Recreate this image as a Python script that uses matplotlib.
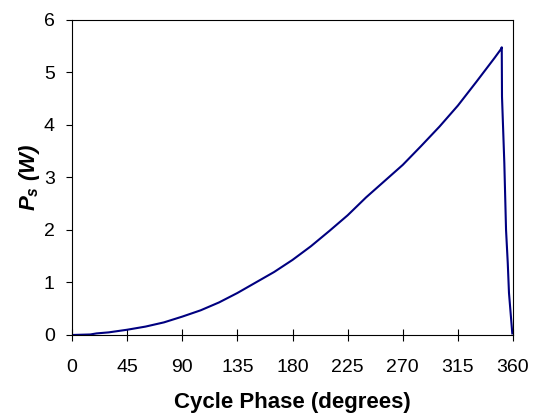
import numpy as np
import matplotlib
matplotlib.use('Agg')
import matplotlib.pyplot as plt

plt.rcParams['font.family'] = ['Liberation Sans', 'DejaVu Sans']
plt.rcParams['mathtext.fontset'] = 'custom'
plt.rcParams['mathtext.it'] = 'Liberation Sans:italic:bold'
plt.rcParams['mathtext.rm'] = 'Liberation Sans:bold'

# Values
phase = [0, 15, 20, 30, 45, 60, 75, 90, 105, 120, 135, 150, 165, 180, 195,
         210, 225, 240, 255, 270, 285, 300, 315, 330, 345, 350, 350.8,
         351.0, 352.9, 354.3, 355.7, 356.7, 359.4]
power = [0.0, 0.01, 0.03, 0.05, 0.10, 0.16, 0.24, 0.35, 0.47, 0.62, 0.80, 1.00,
         1.20, 1.43, 1.69, 1.98, 2.28, 2.62, 2.93, 3.24, 3.60, 3.97, 4.37,
         4.82, 5.28, 5.44, 5.48, 4.54, 3.27, 2.00, 1.37, 0.80, 0.03]

fig = plt.figure(figsize=(5.43, 4.19), dpi=100)
ax = fig.add_axes([0.1326, 0.2005, 0.8122, 0.7518])
ax.plot(phase, power, color='#000080', lw=1.5)

ax.set_xlim(0, 360)
ax.set_ylim(0, 6)
ax.set_xticks(np.arange(0, 361, 45))
ax.set_yticks(np.arange(0, 7, 1))
ax.tick_params(axis='x', direction='inout', length=8, width=0.8, pad=13, labelsize=14)
ax.tick_params(axis='y', direction='out', length=4.5, width=0.8, pad=8, labelsize=14)
for s in ax.spines.values():
    s.set_linewidth(0.8)

ax.set_xlabel('Cycle Phase (degrees)', fontsize=16, fontweight='bold', labelpad=12)
ax.set_ylabel(r'$P_s$ (W)', fontsize=16, fontweight='bold', fontstyle='italic', labelpad=1)

fig.savefig('out.png', dpi=100)
